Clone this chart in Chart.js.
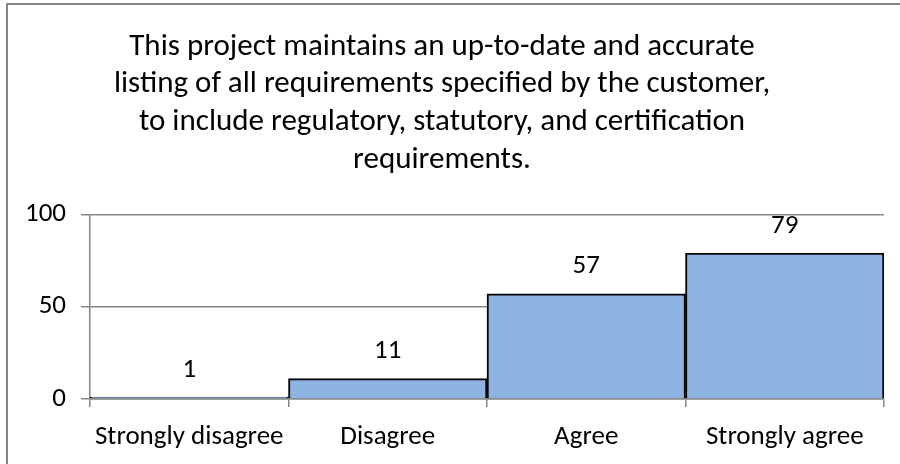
<!DOCTYPE html>
<html>
<head>
<meta charset="utf-8">
<script src="https://cdn.jsdelivr.net/npm/chart.js@4.4.0/dist/chart.umd.min.js"></script>
<style>
  html, body { margin: 0; padding: 0; background: #fff; }
  #wrap { position: absolute; left: 0; top: 0; width: 900px; height: 464px; }
</style>
</head>
<body>
<div id="wrap"><canvas id="main-chart"></canvas></div>
<script>
const categories = ["Strongly disagree", "Disagree", "Agree", "Strongly agree"];
const responses = [1, 11, 57, 79];
const yTicks = [0, 50, 100];
const titleLines = [
  "This project maintains an up-to-date and accurate",
  "listing of all requirements specified by the customer,",
  "to include regulatory, statutory, and certification",
  "requirements."
];

const FONT = "Carlito, Calibri, 'Liberation Sans', sans-serif";
const GRID = "#868686";

// outer frame of the chart object (only left and top edges fall inside the picture)
const frame = {
  id: 'frame',
  beforeDraw(chart) {
    const ctx = chart.ctx;
    ctx.save();
    ctx.strokeStyle = GRID;
    ctx.lineWidth = 2;
    ctx.beginPath();
    ctx.moveTo(7, 470);
    ctx.lineTo(7, 4);
    ctx.lineTo(905, 4);
    ctx.stroke();
    ctx.restore();
  }
};

// value labels above each bar
const valueLabels = {
  id: 'valueLabels',
  afterDatasetsDraw(chart) {
    const ctx = chart.ctx;
    const meta = chart.getDatasetMeta(0);
    ctx.save();
    ctx.font = "27px " + FONT;
    ctx.fillStyle = "#000";
    ctx.textAlign = "center";
    ctx.textBaseline = "middle";
    meta.data.forEach((bar, i) => {
      ctx.fillText(String(responses[i]), bar.x, bar.y - 27);
    });
    ctx.restore();
  }
};

document.addEventListener("DOMContentLoaded", () => {
  const canvas1 = document.getElementById("main-chart");

  new Chart(canvas1, {
    type: 'bar',
    data: {
      labels: categories,
      datasets: [{
        data: responses,
        backgroundColor: "#8EB4E3",
        borderColor: "#000",
        borderWidth: 2,
        categoryPercentage: 1.0,
        barPercentage: 1.0
      }]
    },
    options: {
      responsive: true,
      maintainAspectRatio: false,
      animation: false,
      layout: { padding: { top: 28, right: 16, bottom: 0, left: 0 } },
      plugins: {
        legend: { display: false },
        tooltip: { enabled: false },
        title: {
          display: true,
          text: titleLines,
          color: "#000",
          font: { family: FONT, size: 31, weight: 'normal', lineHeight: 1.22 },
          padding: { top: 0, bottom: 35 }
        }
      },
      scales: {
        x: {
          offset: true,
          afterFit(scale) { scale.height = 65; },
          grid: {
            offset: true,
            drawOnChartArea: false,
            drawTicks: true,
            tickLength: 8,
            color: GRID,
            lineWidth: 1.5
          },
          border: { display: true, color: GRID, width: 1.5 },
          ticks: {
            color: "#000",
            padding: 14,
            maxRotation: 0,
            font: { family: FONT, size: 27 }
          }
        },
        y: {
          min: 0,
          max: 100,
          afterBuildTicks(scale) {
            scale.ticks = yTicks.map(v => ({ value: v }));
          },
          afterFit(scale) { scale.width = 90; },
          grid: {
            color: GRID,
            lineWidth: 1.5,
            tickLength: 9
          },
          border: { display: true, color: GRID, width: 1.5 },
          ticks: {
            color: "#000",
            padding: 15,
            font: { family: FONT, size: 27 }
          }
        }
      }
    },
    plugins: [frame, valueLabels]
  });
});
</script>
</body>
</html>
